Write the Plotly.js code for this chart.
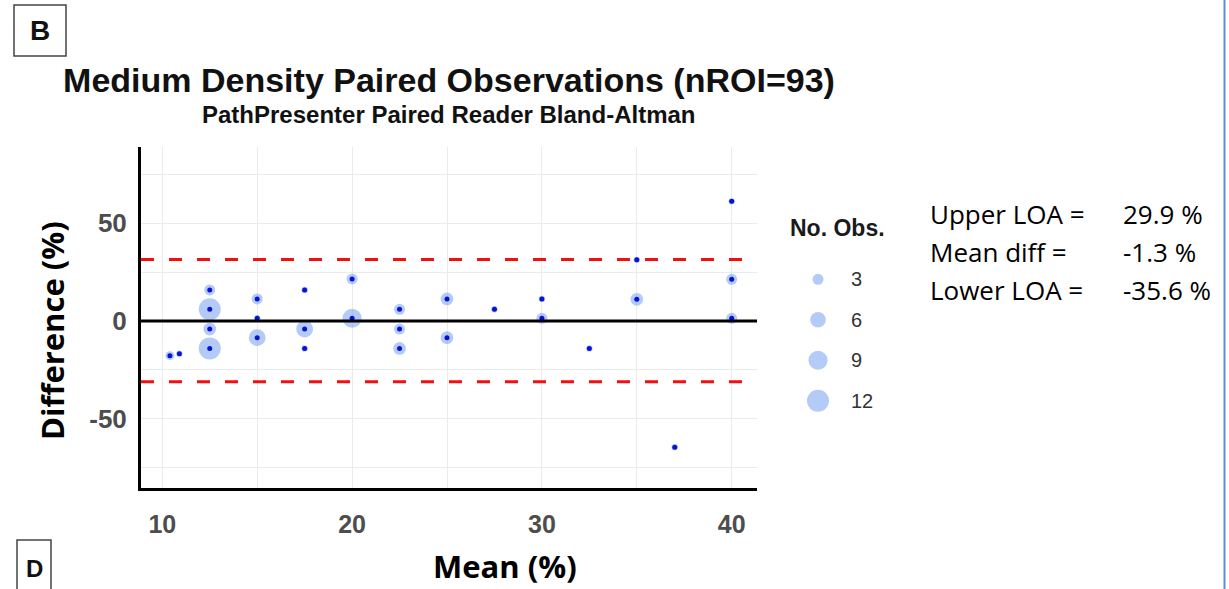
<!DOCTYPE html>
<html>
<head>
<meta charset="utf-8">
<script src="https://cdn.plot.ly/plotly-3.0.1.min.js"></script>
<style>html,body{margin:0;padding:0;background:#fff;}#chart{width:1229px;height:589px;}</style>
</head>
<body>
<div id="chart"></div>
<script>
// ---- data ----
const meanX = [10.4,10.9,12.5,12.5,12.5,12.5,15,15,15,17.5,17.5,17.5,20,20,22.5,22.5,22.5,25,25,27.5,30,30,32.5,35,35,37,40,40,40];
const diffY = [-17.7,-16.7,15.9,6.0,-4.1,-14.0,11.3,1.4,-8.5,15.9,-4.1,-14.0,21.5,1.4,6.0,-4.1,-14.0,11.3,-8.5,6.0,11.3,1.4,-14.0,31.3,11.1,-64.5,61.2,21.3,1.4];
const nObs  = [2,1,3,12,4,12,3,1,7,1,7,1,3,9,3,3,4,4,4,1,1,3,1,1,4,1,1,3,3];
const legendSizes = [3,6,9,12];
const xTickVals = [10,15,20,25,30,35,40];
const xTickText = ['10','','20','','30','','40'];
const yTickVals = [-75,-50,-25,0,25,50,75];
const yTickText = ['','-50','','0','','50',''];
const refLine = 0;
const upperLine = 31.5;
const lowerLine = -31.0;
const statLabels = ['Upper LOA =','Mean diff =','Lower LOA ='];
const statValues = ['29.9 %','-1.3 %','-35.6 %'];

// ---- helpers: pixel -> paper ----
const W = 1229, H = 589;
const px = x => x / W;
const py = y => 1 - y / H;

const bubbleColor = 'rgba(100,149,237,0.70)';
const sizeRef = 0.0496;
const arial = 'Liberation Sans, Arial, sans-serif';
const calib = 'Open Sans, Lato, sans-serif';

const traces = [
  {
    type: 'scatter', mode: 'markers', x: meanX, y: diffY, xaxis: 'x', yaxis: 'y',
    marker: {size: nObs, sizemode: 'area', sizeref: sizeRef, color: bubbleColor, line: {width: 0}},
    showlegend: false, hoverinfo: 'x+y'
  },
  {
    type: 'scatter', mode: 'markers', x: meanX, y: diffY, xaxis: 'x', yaxis: 'y',
    marker: {size: 5, color: '#0712d6'}, showlegend: false, hoverinfo: 'skip'
  },
  {
    type: 'scatter', mode: 'markers', x: legendSizes.map(() => 818), y: legendSizes,
    xaxis: 'x2', yaxis: 'y2',
    marker: {size: legendSizes, sizemode: 'area', sizeref: sizeRef, color: bubbleColor, line: {width: 0}},
    showlegend: false, hoverinfo: 'skip'
  }
];

const annotations = [
  {text: 'PathPresenter Paired Reader Bland-Altman', xref: 'paper', yref: 'paper', x: px(449), y: py(114),
   xanchor: 'center', yanchor: 'middle', showarrow: false, font: {family: arial, size: 24, weight: 700, color: '#111'}},
  {text: 'Difference (%)', xref: 'paper', yref: 'paper', x: px(52), y: py(330), textangle: -90,
   xanchor: 'center', yanchor: 'middle', showarrow: false, font: {family: calib, size: 31, weight: 700, color: '#000'}},
  {text: 'Mean (%)', xref: 'paper', yref: 'paper', x: px(505), y: py(566),
   xanchor: 'center', yanchor: 'middle', showarrow: false, font: {family: calib, size: 31, weight: 700, color: '#000'}},
  {text: 'No. Obs.', xref: 'paper', yref: 'paper', x: px(837), y: py(228),
   xanchor: 'center', yanchor: 'middle', showarrow: false, font: {family: arial, size: 23, weight: 700, color: '#1a1a1a'}},
  {text: 'B', xref: 'paper', yref: 'paper', x: px(40), y: py(31),
   xanchor: 'center', yanchor: 'middle', showarrow: false, font: {family: arial, size: 28, weight: 700, color: '#111'}},
  {text: 'D', xref: 'paper', yref: 'paper', x: px(34), y: py(568),
   xanchor: 'center', yanchor: 'middle', showarrow: false, font: {family: arial, size: 24, weight: 700, color: '#111'}}
];
legendSizes.forEach(v => annotations.push({
  text: String(v), xref: 'x2', yref: 'y2', x: 849, y: v, xanchor: 'left', yanchor: 'middle',
  showarrow: false, font: {family: arial, size: 20, color: '#333'}
}));
const rowY = [214, 252, 290];
statLabels.forEach((t, i) => {
  annotations.push({text: t, xref: 'paper', yref: 'paper', x: px(928), y: py(rowY[i]), xanchor: 'left', yanchor: 'middle',
    showarrow: false, font: {family: calib, size: 26, color: '#000'}});
  annotations.push({text: statValues[i], xref: 'paper', yref: 'paper', x: px(1121), y: py(rowY[i]), xanchor: 'left', yanchor: 'middle',
    showarrow: false, font: {family: calib, size: 26, color: '#000'}});
});

const shapes = [
  {type: 'line', xref: 'x domain', yref: 'y', x0: 0, x1: 1, y0: refLine, y1: refLine,
   line: {color: '#000', width: 3}, layer: 'above'},
  {type: 'line', xref: 'x domain', yref: 'y', x0: 0, x1: 1, y0: upperLine, y1: upperLine,
   line: {color: '#f01010', width: 3, dash: '13px,15px'}, layer: 'above'},
  {type: 'line', xref: 'x domain', yref: 'y', x0: 0, x1: 1, y0: lowerLine, y1: lowerLine,
   line: {color: '#f01010', width: 3, dash: '13px,15px'}, layer: 'above'},
  {type: 'rect', xref: 'paper', yref: 'paper', x0: px(14), x1: px(66), y0: py(56), y1: py(5),
   line: {color: '#444', width: 1.5}},
  {type: 'rect', xref: 'paper', yref: 'paper', x0: px(17), x1: px(51), y0: py(600), y1: py(540),
   line: {color: '#444', width: 1.5}},
  {type: 'line', xref: 'paper', yref: 'paper', x0: px(1224.5), x1: px(1224.5), y0: 0, y1: 1,
   line: {color: '#5b8fd9', width: 2}}
];

const layout = {
  width: W, height: H,
  margin: {l: 0, r: 0, t: 0, b: 0, pad: 0},
  paper_bgcolor: '#fff', plot_bgcolor: '#fff',
  showlegend: false,
  title: {text: 'Medium Density Paired Observations (nROI=93)', x: px(449), xanchor: 'center',
          y: py(80), yanchor: 'middle', xref: 'paper', yref: 'paper',
          font: {family: arial, size: 34, weight: 700, color: '#111'}},
  xaxis: {
    domain: [px(141), px(757)], range: [8.878, 41.333],
    tickmode: 'array', tickvals: xTickVals, ticktext: xTickText,
    showgrid: true, gridcolor: '#EBEBEB', gridwidth: 1, zeroline: false,
    showline: true, linecolor: '#000', linewidth: 3, ticks: '',
    ticklabelstandoff: 12,
    tickfont: {family: arial, size: 25, weight: 700, color: '#4D4D4D'},
    fixedrange: true
  },
  yaxis: {
    domain: [py(488), py(147)], range: [-85.4, 89.0],
    tickmode: 'array', tickvals: yTickVals, ticktext: yTickText,
    showgrid: true, gridcolor: '#EBEBEB', gridwidth: 1, zeroline: false,
    showline: true, linecolor: '#000', linewidth: 3, ticks: '',
    ticklabelstandoff: 6,
    tickfont: {family: arial, size: 26, weight: 700, color: '#4D4D4D'},
    fixedrange: true
  },
  xaxis2: {domain: [px(790), px(900)], range: [790, 900], visible: false, fixedrange: true},
  yaxis2: {domain: [py(421.05), py(259.05)], range: [13.5, 1.5], visible: false, fixedrange: true},
  annotations: annotations,
  shapes: shapes
};

Plotly.newPlot('chart', traces, layout, {displayModeBar: false, staticPlot: true});
</script>
</body>
</html>
